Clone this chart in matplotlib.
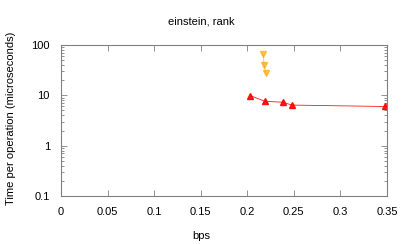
import matplotlib
matplotlib.use("Agg")
import matplotlib.pyplot as plt
from matplotlib.ticker import LogLocator, NullFormatter, FixedLocator

plt.rcParams['font.family'] = ['Liberation Sans', 'DejaVu Sans']

# series
red_x = [0.203, 0.219, 0.238, 0.248, 0.348]
red_y = [9.9, 7.6, 7.3, 6.4, 6.0]
orange_x = [0.217, 0.218, 0.220]
orange_y = [66.0, 40.0, 27.5]

xticks = [0, 0.05, 0.1, 0.15, 0.2, 0.25, 0.3, 0.35]
xticklabels = ['0', '0.05', '0.1', '0.15', '0.2', '0.25', '0.3', '0.35']
yticks = [0.1, 1, 10, 100]
yticklabels = ['0.1', '1', '10', '100']

fig = plt.figure(figsize=(4.07, 2.44), dpi=100)
ax = fig.add_axes([61 / 407, 1 - 196 / 244, (387 - 61) / 407, (196 - 45) / 244])

ax.plot(red_x, red_y, color='#ff0000', lw=0.6, marker='^', ms=4,
        mfc='#ff0000', mec='#ff0000', alpha=0.9)
ax.plot(orange_x, orange_y, color='#ffa500', lw=0.6, marker='v', ms=4,
        mfc='#ffa500', mec='#ffa500', alpha=0.65)

ax.set_yscale('log')
ax.set_xlim(0, 0.35)
ax.set_ylim(0.1, 100)
ax.xaxis.set_major_locator(FixedLocator(xticks))
ax.set_xticklabels(xticklabels)
ax.yaxis.set_major_locator(FixedLocator(yticks))
ax.set_yticklabels(yticklabels)
ax.yaxis.set_minor_locator(LogLocator(base=10, subs=range(2, 10)))
ax.yaxis.set_minor_formatter(NullFormatter())

for s in ax.spines.values():
    s.set_color('#808080')
    s.set_linewidth(0.8)
ax.tick_params(which='both', direction='in', top=True, right=True,
               color='#808080', labelsize=8, pad=8)
ax.tick_params(which='major', length=4, width=0.6)
ax.tick_params(which='minor', length=2, width=0.6)

fig.text(201 / 407, 1 - 236 / 244, 'bps', ha='center', va='center', fontsize=8)
fig.text(11 / 407, 1 - 118 / 244, 'Time per operation (microseconds)',
         ha='center', va='center', rotation=90, fontsize=8)
fig.text(201 / 407, 1 - 22 / 244, 'einstein, rank', ha='center', va='center', fontsize=8)

fig.savefig('out.png', dpi=100)
